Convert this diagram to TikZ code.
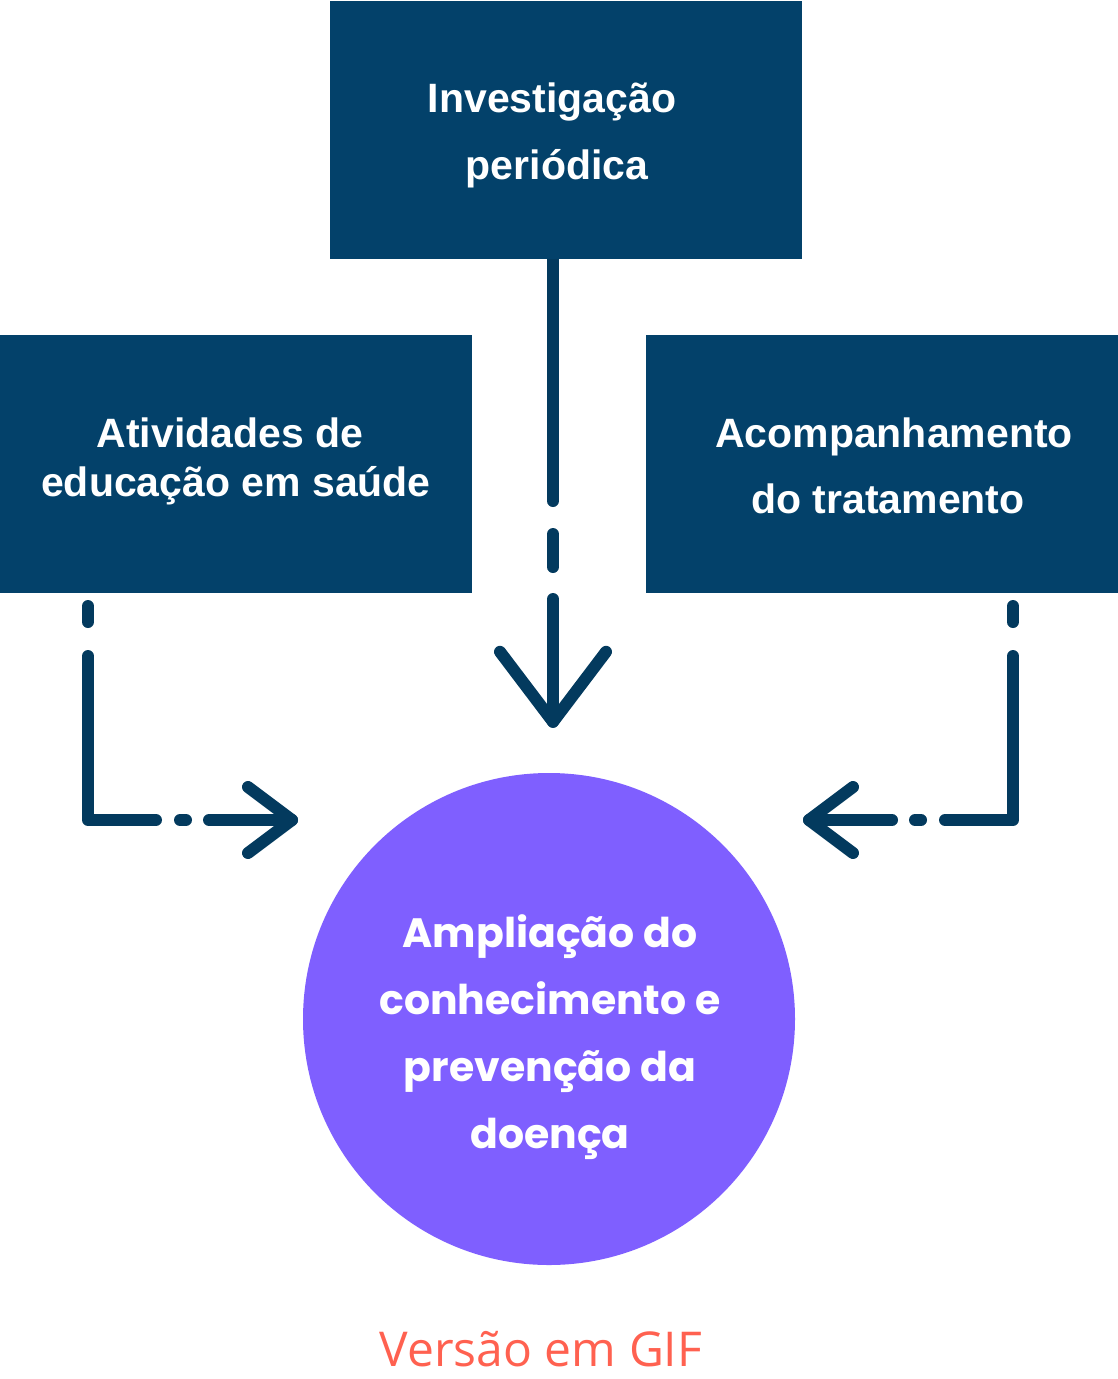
\documentclass[tikz,border=0pt]{standalone}
\usepackage{fontspec}
\setmainfont{Liberation Sans}
\newfontfamily\popfont{Poppins}
\newfontfamily\opfont{Open Sans}
\usetikzlibrary{calc}
\pgfdeclarelayer{bg}
\pgfsetlayers{bg,main}
\definecolor{boxblue}{HTML}{03416A}
\definecolor{arrowblue}{HTML}{033A5E}
\definecolor{circfill}{HTML}{7F5FFF}
\definecolor{gifred}{HTML}{FF6150}
\tikzset{
  box/.style={fill=boxblue, draw=none, minimum width=472pt, minimum height=258pt, inner sep=0pt, outer sep=0pt},
  boxtxt/.style={anchor=base, inner sep=0pt, text=white, font=\bfseries\fontsize{41}{49}\selectfont},
  circtxt/.style={anchor=base, inner sep=0pt, text=white, font=\popfont\bfseries\fontsize{41}{67}\selectfont},
  conn/.style={draw=arrowblue, line width=12pt, line cap=round, line join=round},
  sidedash/.style={dash pattern=on 16pt off 34pt on 232pt off 24pt on 6pt off 23pt on 83pt off 13pt, dash phase=418pt}
}
\begin{document}
\begin{tikzpicture}[x=1pt,y=-1pt]
\useasboundingbox (0,0) rectangle (1118,1379);
% boxes
\node[box] (top) at (566,130) {};
\node[box] (left) at (236,464) {};
\node[box] (right) at (882,464) {};
% goal circle
\node[circle, fill=circfill, draw=none, minimum size=492pt, inner sep=0pt] (goal) at (549,1019) {};
% box texts
\node[boxtxt] (t1) at (552,112) {Investigação};
\node[boxtxt] (t2) at (557,179) {periódica};
\node[boxtxt] (l1) at (230,447) {Atividades de};
\node[boxtxt] (l2) at (236,496) {educação em saúde};
\node[boxtxt] (r1) at (894,447) {Acompanhamento};
\node[boxtxt] (r2) at (888,513) {do tratamento};
% circle texts
\node[circtxt] (c1) at (550,947) {Ampliação do};
\node[circtxt] (c2) at (550,1014) {conhecimento e};
\node[circtxt] (c3) at (550,1081) {prevenção da};
\node[circtxt] (c4) at (550,1148) {doença};
% caption
\node[anchor=base, inner sep=0pt, text=gifred, font=\opfont\fontsize{48}{56}\selectfont] (gif) at (541,1366) {Versão em GIF};
% connectors
\coordinate (cS) at ($(top.south)+(-13,0)$);
\coordinate (cT) at ($(goal.north)+(4,-51)$);
\coordinate (lS) at ($(left.south west)+(88,0)$);
\coordinate (lT) at (292,820);
\coordinate (rS) at ($(right.south west)+(367,0)$);
\coordinate (rT) at (809,820);
\begin{pgfonlayer}{bg}
\draw[conn, dash pattern=on 242pt off 33pt on 33pt off 32pt on 300pt] (cS) -- (cT);
\draw[conn, sidedash] (lS) |- (lT);
\draw[conn, sidedash] (rS) |- (rT);
\end{pgfonlayer}
\draw[conn] ($(cT)+(-53,-70)$) -- (cT) -- ($(cT)+(53,-70)$);
\draw[conn] ($(lT)+(-44,-33)$) -- (lT) -- ($(lT)+(-44,33)$);
\draw[conn] ($(rT)+(44,-33)$) -- (rT) -- ($(rT)+(44,33)$);
\end{tikzpicture}
\end{document}
